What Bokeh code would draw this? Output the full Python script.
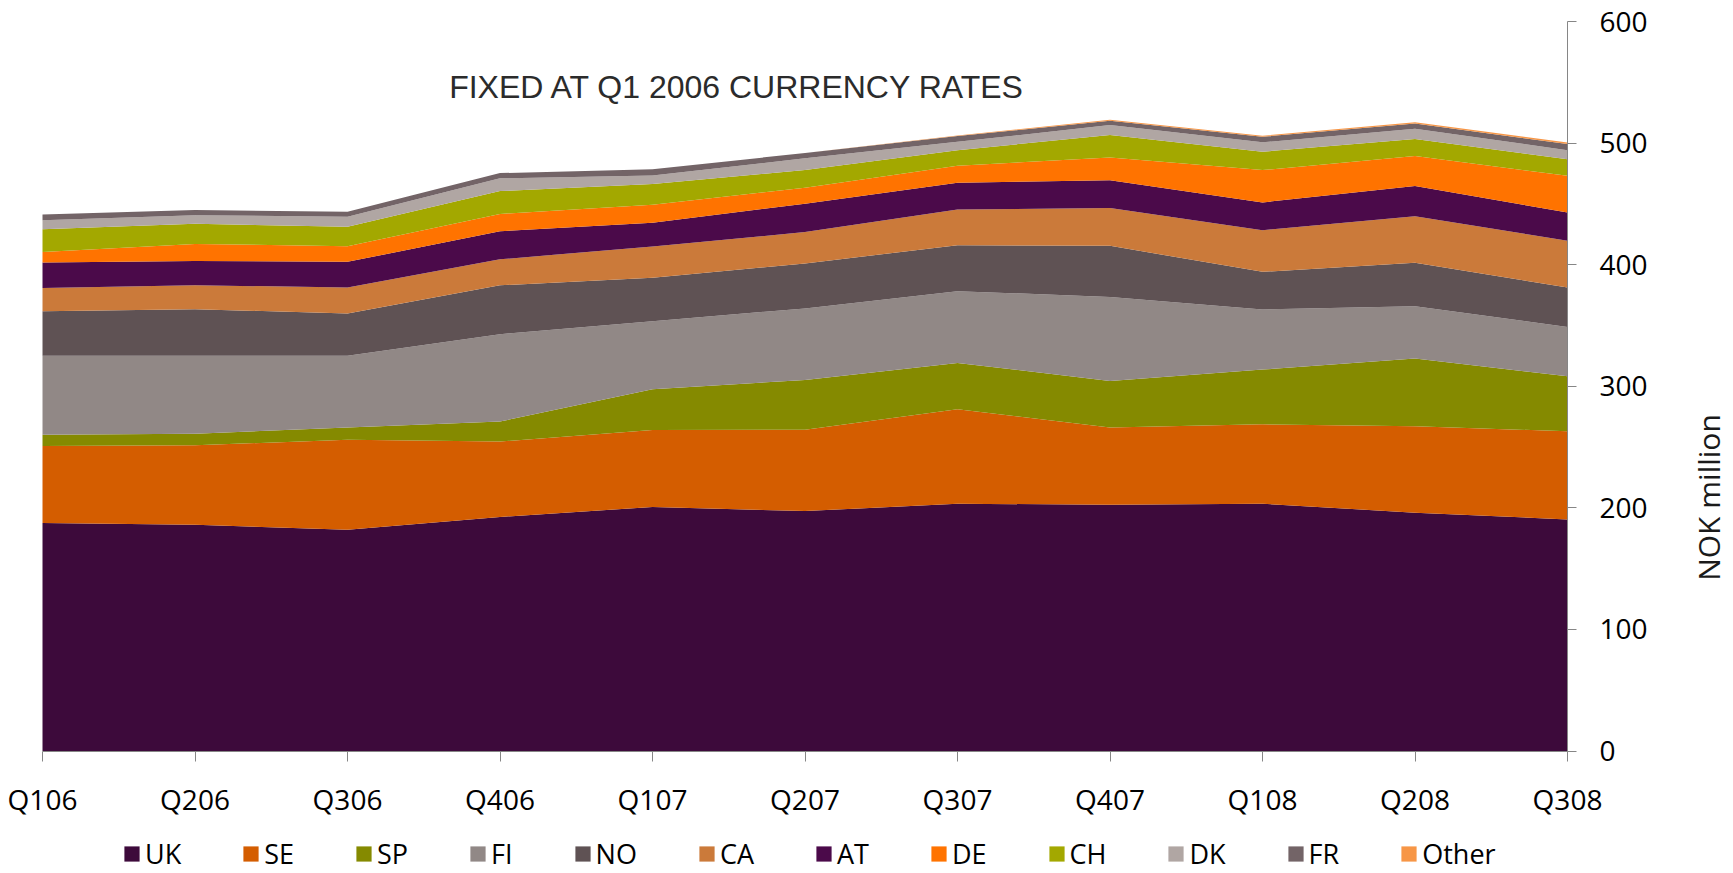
import math
from bokeh.plotting import figure
from bokeh.models import ColumnDataSource, FixedTicker, Label, Legend
from bokeh.embed import file_html
from bokeh.resources import INLINE

quarters = ["Q106", "Q206", "Q306", "Q406", "Q107", "Q207", "Q307", "Q407", "Q108", "Q208", "Q308"]
series = ["UK", "SE", "SP", "FI", "NO", "CA", "AT", "DE", "CH", "DK", "FR", "Other"]

UK = [187.5, 186.0, 182.0, 192.5, 200.7, 197.3, 203.4, 202.5, 203.4, 196.0, 190.5]
SE = [63.4, 65.4, 74.1, 62.0, 63.3, 66.9, 77.7, 63.5, 65.3, 71.1, 72.5]
SP = [9.3, 9.6, 9.9, 16.5, 33.5, 41.0, 38.1, 38.4, 45.0, 55.7, 45.2]
FI = [64.8, 64.0, 59.0, 71.8, 56.0, 58.8, 59.0, 69.1, 49.4, 43.0, 40.6]
NO = [36.7, 38.4, 34.8, 40.2, 35.8, 37.0, 37.8, 42.0, 31.0, 35.7, 32.4]
CA = [19.2, 19.7, 21.4, 21.4, 25.7, 25.8, 29.3, 31.2, 34.3, 38.4, 38.5]
AT = [20.9, 20.0, 21.1, 23.1, 19.5, 23.4, 22.0, 22.8, 22.8, 24.7, 23.3]
DE = [8.7, 14.0, 12.9, 14.2, 14.7, 13.1, 14.0, 18.7, 26.6, 24.7, 30.1]
CH = [18.7, 16.5, 15.9, 18.8, 17.1, 14.6, 12.9, 18.4, 15.1, 14.0, 13.7]
DK = [7.4, 7.1, 8.3, 10.5, 7.0, 9.6, 6.8, 8.2, 7.7, 8.5, 7.4]
FR = [4.7, 4.2, 4.1, 4.3, 5.2, 4.3, 4.8, 3.6, 4.6, 4.4, 5.0]
Other = [0.0, 0.0, 0.0, 0.0, 0.0, 0.0, 0.5, 0.8, 0.8, 1.0, 1.2]

y_ticks = [0, 100, 200, 300, 400, 500, 600]
title_text = "FIXED AT Q1 2006 CURRENCY RATES"
y_title = "NOK million"

colors = ["#3D0A3B", "#D45D00", "#858A00", "#918886", "#5F5254", "#CB7A3A",
          "#4B0A4A", "#FF7300", "#A3A800", "#B0A6A3", "#736467", "#F79646"]

FONT = "Open Sans"

# canvas geometry (pixels): data x 0..10 spans px 42..1567, y 0..600 spans px 750.5..21
W, H = 1733, 873
X0, X1 = 42.0, 1567.0
Y0, Y600 = 750.5, 21.0
ppx = (X1 - X0) / (len(quarters) - 1)
ppy = (Y0 - Y600) / 600.0

data = dict(x=list(range(len(quarters))), UK=UK, SE=SE, SP=SP, FI=FI, NO=NO, CA=CA,
            AT=AT, DE=DE, CH=CH, DK=DK, FR=FR, Other=Other)
source = ColumnDataSource(data)

p = figure(width=W, height=H,
           x_range=(-X0 / ppx, (W - X0) / ppx),
           y_range=(-(H - Y0) / ppy, Y0 / ppy),
           y_axis_location="right", output_backend="svg", toolbar_location=None,
           min_border=0, min_border_left=0, min_border_right=0,
           min_border_top=0, min_border_bottom=0)
p.outline_line_color = None
p.grid.visible = False
p.background_fill_color = "white"
p.border_fill_color = "white"

renderers = p.varea_stack(series, x="x", color=colors, source=source)

# x axis, drawn at y = 0
xa = p.xaxis[0]
xa.fixed_location = 0
xa.bounds = (0, len(quarters) - 1)
xa.ticker = FixedTicker(ticks=list(range(len(quarters))))
xa.major_label_overrides = {i: q for i, q in enumerate(quarters)}
xa.major_label_text_font = FONT
xa.major_label_text_font_size = "28px"
xa.major_label_text_color = "#000000"
xa.major_tick_out = 10
xa.major_tick_in = 0
xa.minor_tick_out = 0
xa.minor_tick_in = 0
xa.major_label_standoff = 19
xa.axis_line_color = "#868686"
xa.major_tick_line_color = "#868686"

# y axis on the right, drawn at the last quarter
ya = p.yaxis[0]
ya.fixed_location = len(quarters) - 1
ya.bounds = (0, 600)
ya.ticker = FixedTicker(ticks=y_ticks)
ya.major_label_text_font = FONT
ya.major_label_text_font_size = "28px"
ya.major_label_text_color = "#000000"
ya.major_tick_out = 9
ya.major_tick_in = 0
ya.minor_tick_out = 0
ya.minor_tick_in = 0
ya.major_label_standoff = 23
ya.axis_line_color = "#868686"
ya.major_tick_line_color = "#868686"

# title
p.add_layout(Label(x=(737 - X0) / ppx, y=(Y0 - 86) / ppy, text=title_text,
                   text_font="Liberation Sans", text_font_size="32px", text_color="#2b2b2b",
                   text_align="center", text_baseline="middle"))
# y axis title
p.add_layout(Label(x=(1707.5 - X0) / ppx, y=(Y0 - 497) / ppy, text=y_title,
                   text_font=FONT, text_font_size="30px", text_color="#1a1a1a",
                   angle=math.pi / 2, text_align="center", text_baseline="middle"))

legend = Legend(items=[(name, [r]) for name, r in zip(series, renderers)],
                location=(122, 1), orientation="horizontal",
                glyph_width=19, glyph_height=19, label_standoff=4, spacing=60,
                label_text_font=FONT, label_text_font_size="27px", label_text_color="#000000",
                label_height=30, padding=0, margin=0,
                border_line_alpha=0, background_fill_alpha=0)
p.add_layout(legend, "center")

open("out.html", "w").write(file_html(p, INLINE))
